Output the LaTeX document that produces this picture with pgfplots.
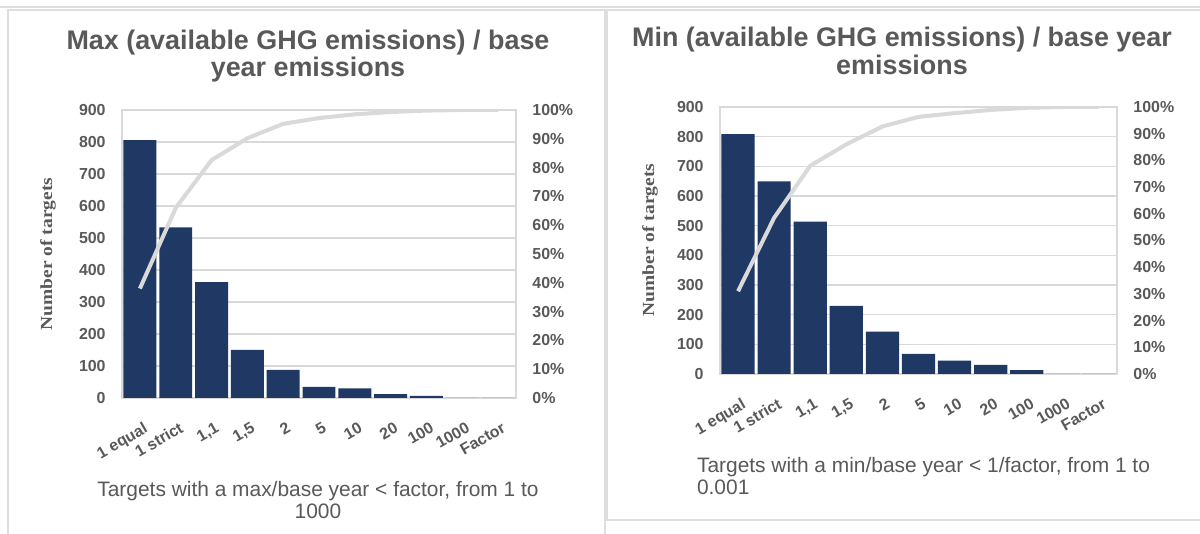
\documentclass[border=0pt]{standalone}
\usepackage{pgfplots}
\pgfplotsset{compat=1.18}
\usepackage{fontspec}
\setmainfont{Liberation Sans}
\newfontfamily\serifb{Liberation Serif}
\definecolor{barc}{RGB}{31,56,100}
\definecolor{txt}{RGB}{89,89,89}
\definecolor{grd}{RGB}{217,217,217}
\definecolor{frm}{RGB}{222,222,222}
\pgfplotsset{
  common/.style={scale only axis, anchor=south west,
    xmin=-0.5, xmax=10.5, ymin=0,
    major tick length=0pt,
    /pgf/number format/assume math mode=true,
    tick label style={font=\bfseries\fontsize{8}{9}\selectfont, text=txt},
  },
  bars/.style={common, ymax=900, ytick={0,100,...,900},
    xtick={0,...,10},
    xticklabels={1 equal,1 strict,{1,1},{1,5},2,5,10,20,100,1000,Factor},
    ymajorgrids, grid style={grd, line width=0.7bp},
    axis line style={grd, line width=0.7bp},
    xticklabel style={yshift=-11.5bp, xshift=1.5bp, rotate=30, anchor=north east, inner sep=0pt},
    yticklabel style={anchor=east, inner sep=0pt, xshift=-8bp},
  },
  pct/.style={common, ymax=100, ytick={0,10,...,100},
    axis y line*=right, axis x line=none, axis line style={draw=none},
    yticklabel={\pgfmathprintnumber{\tick}\%},
    yticklabel style={anchor=west, inner sep=0pt, xshift=8bp},
  },
}
\begin{document}
\begin{tikzpicture}
\useasboundingbox (0,0) rectangle (600bp,267bp);
\fill[white] (0,0) rectangle (600bp,267bp);
% panel frames
\draw[frm, line width=0.8bp] (0,263.5bp) -- (600bp,263.5bp);
\draw[frm, line width=0.8bp] (4bp,0) -- (4bp,262bp) -- (302.5bp,262bp) -- (302.5bp,0);
\draw[frm, line width=0.8bp] (600bp,7bp) -- (303.5bp,7bp) -- (303.5bp,262bp) -- (600bp,262bp);

% ---------- Left chart ----------
\begin{axis}[bars, at={(61bp,68bp)}, width=197bp, height=144bp]
\addplot[ybar, bar width=0.92, fill=barc, draw=none] coordinates {
(0,806) (1,533) (2,362) (3,150) (4,88) (5,35) (6,30) (7,12) (8,7) (9,0) (10,0)};
\end{axis}
\begin{axis}[pct, at={(61bp,68bp)}, width=197bp, height=144bp]
\addplot[grd, line width=2bp, line join=round] coordinates {
(0,38) (1,66) (2,82.6) (3,90.2) (4,95.2) (5,97.2) (6,98.5) (7,99.3) (8,99.8) (9,100) (10,100)};
\end{axis}
\node[font=\bfseries\fontsize{13.5}{14}\selectfont, text=txt, anchor=base] at (154bp,242bp) {Max (available GHG emissions) / base};
\node[font=\bfseries\fontsize{13.5}{14}\selectfont, text=txt, anchor=base] at (154bp,228.5bp) {year emissions};
\node[font=\serifb\bfseries\fontsize{8.5}{9}\selectfont, text=txt, rotate=90] at (24bp,140bp) {\scalebox{1.15}[1]{Number of targets}};
\node[font=\fontsize{10.5}{11}\selectfont, text=txt, anchor=base] at (159bp,18.7bp) {Targets with a max/base year < factor, from 1 to};
\node[font=\fontsize{10.5}{11}\selectfont, text=txt, anchor=base] at (159bp,8bp) {1000};

% ---------- Right chart ----------
\begin{axis}[bars, at={(360bp,80bp)}, width=198.5bp, height=133.5bp]
\addplot[ybar, bar width=0.92, fill=barc, draw=none] coordinates {
(0,809) (1,649) (2,514) (3,230) (4,143) (5,68) (6,45) (7,31) (8,13) (9,0) (10,0)};
\end{axis}
\begin{axis}[pct, at={(360bp,80bp)}, width=198.5bp, height=133.5bp]
\addplot[grd, line width=2bp, line join=round] coordinates {
(0,31) (1,58.5) (2,78) (3,86) (4,92.7) (5,96.3) (6,97.7) (7,98.9) (8,99.7) (9,100) (10,100)};
\end{axis}
\node[font=\bfseries\fontsize{13.5}{14}\selectfont, text=txt, anchor=base] at (451bp,243.5bp) {Min (available GHG emissions) / base year};
\node[font=\bfseries\fontsize{13.5}{14}\selectfont, text=txt, anchor=base] at (451bp,229.5bp) {emissions};
\node[font=\serifb\bfseries\fontsize{8.5}{9}\selectfont, text=txt, rotate=90] at (325bp,147bp) {\scalebox{1.15}[1]{Number of targets}};
\node[font=\fontsize{10.5}{11}\selectfont, text=txt, anchor=base west] at (345bp,30.7bp) {Targets with a min/base year < 1/factor, from 1 to};
\node[font=\fontsize{10.5}{11}\selectfont, text=txt, anchor=base west] at (345bp,20bp) {0.001};
\end{tikzpicture}
\end{document}
